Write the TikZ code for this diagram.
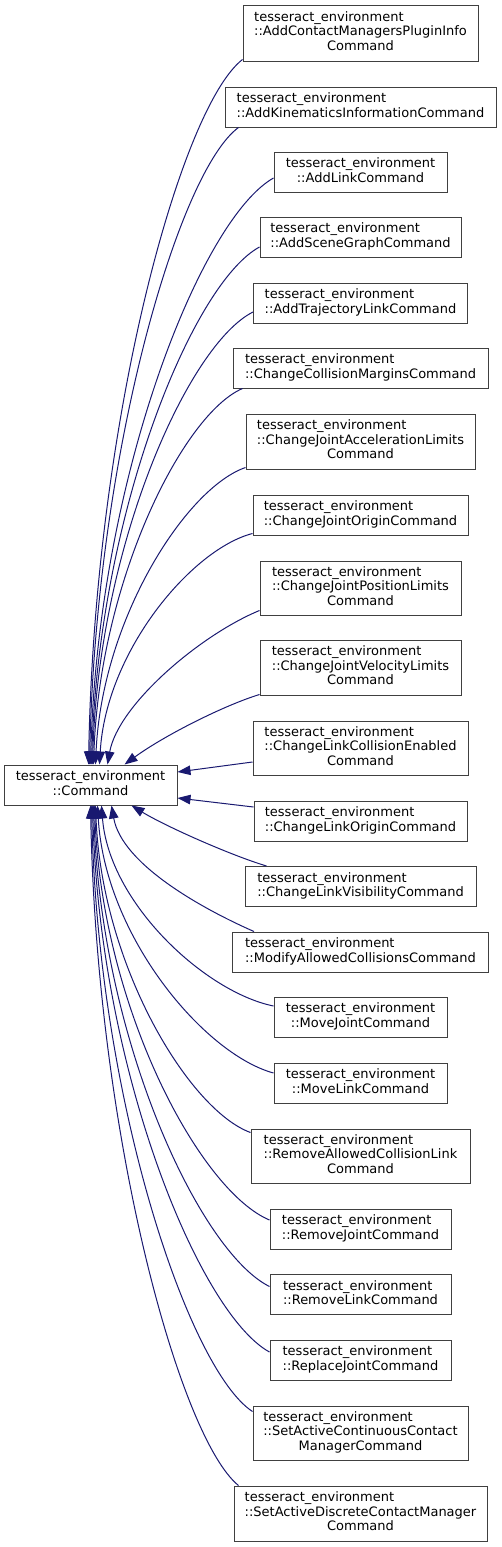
\documentclass[tikz,border=0pt]{standalone}
\usepackage{fontspec}
\setmainfont{DejaVu Sans}
\usetikzlibrary{arrows.meta,calc}
\definecolor{edgeblue}{RGB}{25,25,112}
\definecolor{boxgray}{RGB}{64,64,64}
\newcommand{\lbltwo}[2]{\begin{tabular}{@{}l@{}}#1\\\multicolumn{1}{@{}c@{}}{#2}\end{tabular}}
\newcommand{\lblthree}[3]{\begin{tabular}{@{}l@{}}#1\\#2\\\multicolumn{1}{@{}c@{}}{#3}\end{tabular}}
\newcommand{\tenv}{tesseract\_environment}
\begin{document}
\begin{tikzpicture}[x=1pt,y=-1pt,
  cls/.style={draw=boxgray, line width=1pt, fill=white, inner sep=0pt, font=\fontsize{13}{14.5}\selectfont},
  inh/.style={draw=edgeblue, line width=1pt, -{Triangle[length=13pt,width=9.5pt]}, edgeblue}]
\useasboundingbox (0,0) rectangle (501,1547);
\node[cls, minimum width=173pt, minimum height=40pt] (cmd) at (90.5,785) {\lbltwo{\tenv}{::Command}};
\node[cls, minimum width=235pt, minimum height=56pt] (n1) at (360.5,33) {\lblthree{\tenv}{::AddContactManagersPluginInfo}{Command}};
\node[cls, minimum width=271pt, minimum height=40pt] (n2) at (360.5,107) {\lbltwo{\tenv}{::AddKinematicsInformationCommand}};
\node[cls, minimum width=173pt, minimum height=40pt] (n3) at (360.5,172) {\lbltwo{\tenv}{::AddLinkCommand}};
\node[cls, minimum width=201pt, minimum height=40pt] (n4) at (360.5,237) {\lbltwo{\tenv}{::AddSceneGraphCommand}};
\node[cls, minimum width=214pt, minimum height=40pt] (n5) at (360.5,303) {\lbltwo{\tenv}{::AddTrajectoryLinkCommand}};
\node[cls, minimum width=255pt, minimum height=40pt] (n6) at (360.5,368) {\lbltwo{\tenv}{::ChangeCollisionMarginsCommand}};
\node[cls, minimum width=229pt, minimum height=55pt] (n7) at (360.5,441.5) {\lblthree{\tenv}{::ChangeJointAccelerationLimits}{Command}};
\node[cls, minimum width=215pt, minimum height=40pt] (n8) at (360.5,515) {\lbltwo{\tenv}{::ChangeJointOriginCommand}};
\node[cls, minimum width=201pt, minimum height=54pt] (n9) at (360.5,588) {\lblthree{\tenv}{::ChangeJointPositionLimits}{Command}};
\node[cls, minimum width=201pt, minimum height=55pt] (n10) at (360.5,667.5) {\lblthree{\tenv}{::ChangeJointVelocityLimits}{Command}};
\node[cls, minimum width=215pt, minimum height=54pt] (n11) at (360.5,748) {\lblthree{\tenv}{::ChangeLinkCollisionEnabled}{Command}};
\node[cls, minimum width=213pt, minimum height=40pt] (n12) at (360.5,821) {\lbltwo{\tenv}{::ChangeLinkOriginCommand}};
\node[cls, minimum width=231pt, minimum height=40pt] (n13) at (360.5,886.5) {\lbltwo{\tenv}{::ChangeLinkVisibilityCommand}};
\node[cls, minimum width=256pt, minimum height=40pt] (n14) at (360.5,952) {\lbltwo{\tenv}{::ModifyAllowedCollisionsCommand}};
\node[cls, minimum width=173pt, minimum height=40pt] (n15) at (360.5,1017) {\lbltwo{\tenv}{::MoveJointCommand}};
\node[cls, minimum width=173pt, minimum height=40pt] (n16) at (360.5,1083) {\lbltwo{\tenv}{::MoveLinkCommand}};
\node[cls, minimum width=219pt, minimum height=54pt] (n17) at (360.5,1156) {\lblthree{\tenv}{::RemoveAllowedCollisionLink}{Command}};
\node[cls, minimum width=181pt, minimum height=40pt] (n18) at (360.5,1229) {\lbltwo{\tenv}{::RemoveJointCommand}};
\node[cls, minimum width=181pt, minimum height=40pt] (n19) at (360.5,1294.5) {\lbltwo{\tenv}{::RemoveLinkCommand}};
\node[cls, minimum width=181pt, minimum height=40pt] (n20) at (360.5,1360) {\lbltwo{\tenv}{::ReplaceJointCommand}};
\node[cls, minimum width=215pt, minimum height=54pt] (n21) at (360.5,1433) {\lblthree{\tenv}{::SetActiveContinuousContact}{ManagerCommand}};
\node[cls, minimum width=253pt, minimum height=55pt] (n22) at (360.5,1513.5) {\lblthree{\tenv}{::SetActiveDiscreteContactManager}{Command}};
% edges to top of Command
\draw[inh] ($(n1.south west)+(0,-2)$) .. controls (181,107) and (95,418) .. ($(cmd.north west)+(85,0)$);
\draw[inh] ($(n2.south west)+(14,0)$) .. controls (179,171) and (96,452) .. ($(cmd.north west)+(86,0)$);
\draw[inh] ($(n3.west)+(0,6)$) .. controls (201,219) and (98,477) .. ($(cmd.north west)+(87,0)$);
\draw[inh] ($(n4.west)+(0,10)$) .. controls (193,283) and (99,511) .. ($(cmd.north west)+(88,0)$);
\draw[inh] ($(n5.west)+(0,9)$) .. controls (189,344) and (99,543) .. ($(cmd.north west)+(89,0)$);
\draw[inh] ($(n6.south west)+(10,0)$) .. controls (183,414) and (100,580) .. ($(cmd.north west)+(90,0)$);
\draw[inh] ($(n7.south west)+(0,-2)$) .. controls (186,488) and (102,619) .. ($(cmd.north west)+(92,0)$);
\draw[inh] ($(n8.south west)+(0,-2)$) .. controls (192,549) and (106,651) .. ($(cmd.north west)+(96,0)$);
\draw[inh] ($(n9.south west)+(0,-5)$) .. controls (200,635) and (118,705) .. ($(cmd.north west)+(104,0)$);
\draw[inh] ($(n10.south west)+(0,-1)$) .. controls (225,705) and (165,735) .. ($(cmd.north west)+(121,0)$);
% edges to right side
\draw[inh] ($(n11.west)+(0,14)$) -- ($(cmd.east)+(0,-13)$);
\draw[inh] ($(n12.west)+(0,-14)$) -- ($(cmd.east)+(0,13)$);
% edges to bottom of Command
\draw[inh] ($(n13.north west)+(22,0)$) .. controls (230,855) and (165,826) .. ($(cmd.south west)+(128,0)$);
\draw[inh] ($(n14.north west)+(22,0)$) .. controls (205,910) and (122,865) .. ($(cmd.south west)+(108,0)$);
\draw[inh] ($(n15.west)+(0,-11)$) .. controls (205,992) and (109,903) .. ($(cmd.south west)+(98,0)$);
\draw[inh] ($(n16.west)+(0,-10)$) .. controls (204,1054) and (105,936) .. ($(cmd.south west)+(94,0)$);
\draw[inh] ($(n17.north west)+(0,4)$) .. controls (189,1110) and (102,966) .. ($(cmd.south west)+(92,0)$);
\draw[inh] ($(n18.west)+(0,-9)$) .. controls (200,1191) and (102,1008) .. ($(cmd.south west)+(91,0)$);
\draw[inh] ($(n19.west)+(0,-8)$) .. controls (200,1252) and (101,1041) .. ($(cmd.south west)+(90,0)$);
\draw[inh] ($(n20.west)+(0,-8)$) .. controls (200,1314) and (100,1073) .. ($(cmd.south west)+(89,0)$);
\draw[inh] ($(n21.north west)+(0,6)$) .. controls (189,1370) and (98,1102) .. ($(cmd.south west)+(88,0)$);
\draw[inh] ($(n22.north west)+(5,0)$) .. controls (180,1438) and (97,1139) .. ($(cmd.south west)+(87,0)$);
\end{tikzpicture}
\end{document}
